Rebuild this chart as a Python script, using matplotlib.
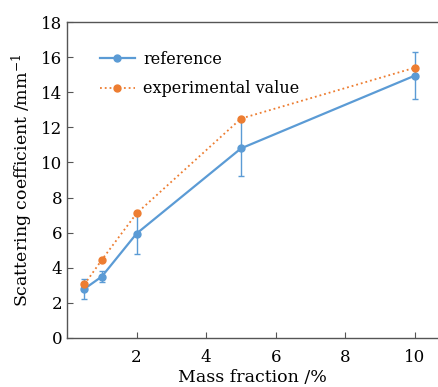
import matplotlib
matplotlib.use("Agg")
import matplotlib.pyplot as plt

plt.rcParams['font.family'] = ['DejaVu Serif']
plt.rcParams['mathtext.fontset'] = 'dejavuserif'

# data
mass_fraction = [0.5, 1, 2, 5, 10]
reference = [2.8, 3.5, 5.95, 10.8, 14.95]
reference_err = [0.55, 0.3, 1.15, 1.6, 1.35]
experimental = [3.05, 4.45, 7.1, 12.5, 15.4]

blue = '#5b9bd5'
orange = '#ed7d31'

fig = plt.figure(figsize=(4.38, 3.87), dpi=100)
ax = fig.add_axes([67 / 438, 49 / 387, 371 / 438, 316 / 387])

ref = ax.errorbar(mass_fraction, reference, yerr=reference_err, color=blue,
                  lw=1.6, marker='o', ms=5, capsize=2.5, elinewidth=1,
                  capthick=1, zorder=2)
exp_line, = ax.plot(mass_fraction, experimental, color=orange, lw=1.3,
                    ls=':', marker='o', ms=5, zorder=3)

ax.set_xlim(0, 10.66)
ax.set_ylim(0, 18)
ax.set_xticks([2, 4, 6, 8, 10])
ax.set_yticks(range(0, 19, 2))
ax.tick_params(direction='in', labelsize=12, length=4, color='#555555')
ax.tick_params(axis='x', pad=8)

for side in ['left', 'bottom', 'top']:
    ax.spines[side].set_color('#555555')
    ax.spines[side].set_linewidth(1)
ax.spines['right'].set_visible(False)

ax.set_xlabel('Mass fraction /%', fontsize=12.5, labelpad=2)
ax.set_ylabel('Scattering coefficient /mm$^{-1}$', fontsize=12.5, labelpad=4)

ax.legend([ref[0], exp_line], ['reference', 'experimental value'],
          loc='upper left', bbox_to_anchor=(0.05, 0.955), frameon=False,
          fontsize=11.5, handlelength=2.2, handletextpad=0.5,
          labelspacing=0.8)

fig.savefig('out.png', dpi=100)
